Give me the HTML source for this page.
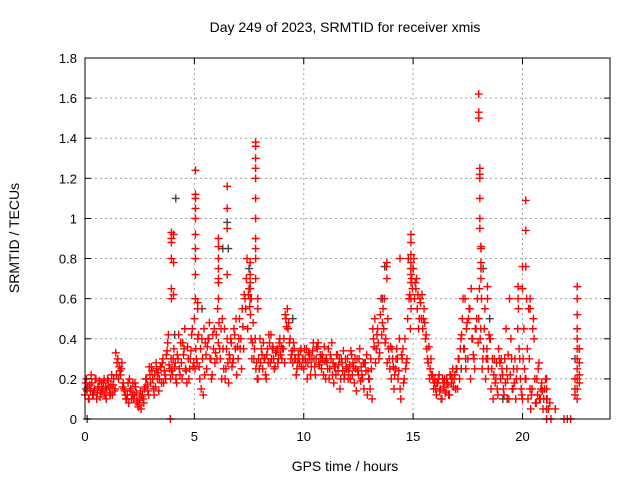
<!DOCTYPE html>
<html><head><meta charset="utf-8"><style>
body{margin:0;background:#fff}
svg{display:block;font-family:"Liberation Sans",sans-serif}
</style></head><body>
<svg id="chart" width="640" height="480">
<rect width="640" height="480" fill="#fff"/>
<text x="345" y="32" font-size="14" text-anchor="middle">Day 249 of 2023, SRMTID for receiver xmis</text>
<text x="345" y="471" font-size="14" text-anchor="middle">GPS time / hours</text>
<text transform="translate(19,238) rotate(-90)" font-size="14" text-anchor="middle">SRMTID / TECUs</text>
<g id="grid"></g><g id="marks"></g>
<rect x="85" y="58" width="525" height="361" fill="none" stroke="#000" stroke-width="1"/>
<g id="axes"></g>
</svg>
<script>
const xTicks=[0,5,10,15,20];
const yTicks=[0,0.2,0.4,0.6,0.8,1,1.2,1.4,1.6,1.8];
const yTickLabels=["0","0.2","0.4","0.6","0.8","1","1.2","1.4","1.6","1.8"];
const baseStep=1/16;
const redBase=[
0.12,0.2,0.16,0.1,0.14,0.18,0.12,0.15,0.2,0.13,0.16,0.11,0.18,0.14,0.2,0.16,
0.15,0.19,0.13,0.17,0.12,0.2,0.15,0.22,0.3,0.26,0.22,0.28,0.18,0.14,0.1,0.12,
0.08,0.14,0.1,0.18,0.12,0.16,0.09,0.06,0.1,0.05,0.12,0.08,0.16,0.2,0.14,0.26,
0.18,0.24,0.15,0.22,0.28,0.2,0.14,0.26,0.18,0.3,0.24,0.2,0.34,0.42,0.25,0.3,
0.22,0.35,0.28,0.18,0.3,0.25,0.38,0.2,0.32,0.45,0.24,0.36,0.2,0.3,0.42,0.26,
0.5,0.35,0.28,0.42,0.2,0.15,0.3,0.45,0.38,0.25,0.4,0.48,0.3,0.22,0.35,0.28,
0.42,0.55,0.48,0.3,0.2,0.35,0.45,0.25,0.4,0.18,0.3,0.38,0.28,0.45,0.35,0.22,
0.3,0.5,0.4,0.55,0.35,0.6,0.7,0.45,0.65,0.52,0.3,0.48,0.35,0.25,0.2,0.3,
0.4,0.35,0.25,0.3,0.22,0.32,0.28,0.38,0.42,0.35,0.3,0.26,0.34,0.28,0.38,0.32,
0.3,0.35,0.28,0.5,0.55,0.48,0.4,0.32,0.28,0.35,0.3,0.25,0.32,0.28,0.35,0.3,
0.25,0.3,0.35,0.28,0.32,0.22,0.3,0.38,0.26,0.3,0.35,0.28,0.32,0.25,0.3,0.36,
0.2,0.28,0.35,0.25,0.3,0.22,0.18,0.26,0.32,0.24,0.3,0.2,0.28,0.34,0.22,0.26,
0.3,0.24,0.2,0.32,0.28,0.18,0.25,0.3,0.22,0.35,0.26,0.2,0.15,0.28,0.32,0.24,
0.2,0.3,0.1,0.4,0.5,0.35,0.45,0.3,0.52,0.42,0.55,0.6,0.4,0.28,0.35,0.25,
0.2,0.3,0.15,0.25,0.35,0.2,0.4,0.1,0.3,0.18,0.4,0.28,0.5,0.6,0.45,0.7,
0.75,0.6,0.65,0.55,0.45,0.6,0.5,0.45,0.55,0.4,0.35,0.28,0.2,0.3,0.22,0.15,
0.2,0.12,0.18,0.22,0.15,0.1,0.18,0.2,0.14,0.18,0.12,0.22,0.18,0.25,0.2,0.15,
0.25,0.3,0.2,0.4,0.5,0.35,0.6,0.45,0.3,0.55,0.2,0.4,0.32,0.25,0.45,0.6,
0.5,0.4,0.6,0.3,0.45,0.2,0.35,0.25,0.4,0.15,0.3,0.22,0.18,0.28,0.12,0.3,
0.2,0.25,0.15,0.3,0.45,0.2,0.1,0.22,0.3,0.15,0.18,0.1,0.25,0.55,0.3,0.15,
0.1,0.45,0.2,0.6,0.1,0.3,0.05,0.15,0.5,0.2,0.08,0.12,0.28,0.1,0.18,0.05,
0.15,0.2,0.1,0.05,0.08];
const altStep=1/8;
const altOffset=1/32;
const redAlt=[
0.18,0.1,0.22,0.14,0.1,0.19,0.15,0.12,
0.2,0.12,0.17,0.33,0.2,0.25,0.15,0.1,
0.2,0.12,0.18,0.08,0.14,0.1,0.2,0.12,
0.26,0.12,0.25,0.2,0.28,0.22,0.38,0.2,
0.3,0.2,0.42,0.28,0.35,0.18,0.25,0.45,
0.25,0.4,0.35,0.12,0.32,0.4,0.2,0.45,
0.3,0.35,0.5,0.2,0.28,0.4,0.3,0.5,
0.4,0.25,0.62,0.8,0.56,0.38,0.4,0.2,
0.28,0.38,0.2,0.42,0.3,0.25,0.35,0.4,
0.35,0.52,0.45,0.3,0.38,0.22,0.3,0.26,
0.35,0.2,0.3,0.34,0.22,0.38,0.3,0.22,
0.3,0.2,0.38,0.26,0.32,0.15,0.24,0.3,
0.2,0.34,0.26,0.14,0.3,0.22,0.28,0.12,
0.15,0.45,0.28,0.38,0.6,0.45,0.76,0.3,
0.35,0.22,0.3,0.15,0.35,0.25,0.8,0.55,
0.8,0.7,0.5,0.62,0.48,0.3,0.25,0.2,
0.15,0.2,0.1,0.16,0.2,0.12,0.2,0.22,
0.15,0.35,0.6,0.25,0.5,0.65,0.3,0.5,
0.65,0.25,0.55,0.3,0.4,0.1,0.2,0.35,
0.3,0.12,0.25,0.6,0.15,0.3,0.45,0.2,
0.3,0.2,0.55,0.12,0.4,0.2,0.1,0.14];
const alt2Offset=3/32;
const redAlt2=[
0.14,0.17,0.12,0.2,0.16,0.13,0.18,0.1,
0.16,0.22,0.14,0.28,0.24,0.16,0.12,0.18,
0.15,0.1,0.13,0.07,0.11,0.15,0.17,0.22,
0.2,0.16,0.23,0.26,0.18,0.32,0.27,0.24,
0.26,0.32,0.22,0.38,0.25,0.3,0.34,0.28,
0.3,0.26,0.4,0.22,0.36,0.3,0.42,0.33,
0.38,0.45,0.25,0.35,0.32,0.26,0.42,0.36,
0.35,0.46,0.55,0.62,0.4,0.3,0.28,0.25,
0.32,0.3,0.35,0.28,0.36,0.33,0.3,0.36,
0.4,0.46,0.38,0.34,0.3,0.28,0.34,0.3,
0.28,0.33,0.26,0.3,0.36,0.27,0.32,0.29,
0.25,0.32,0.28,0.22,0.27,0.3,0.2,0.25,
0.27,0.22,0.3,0.24,0.19,0.28,0.24,0.2,
0.25,0.36,0.42,0.33,0.48,0.38,0.5,0.36,
0.26,0.3,0.24,0.32,0.2,0.3,0.62,0.65,
0.68,0.62,0.58,0.5,0.42,0.36,0.22,0.18,
0.18,0.14,0.2,0.13,0.17,0.22,0.16,0.25,
0.3,0.42,0.35,0.48,0.55,0.4,0.45,0.38,
0.45,0.35,0.3,0.42,0.25,0.3,0.15,0.28,
0.22,0.18,0.32,0.4,0.25,0.2,0.35,0.12,
0.25,0.35,0.15,0.45,0.08,0.25,0.15,0.1];
const spikeTimes=[
3.9,
3.95,3.95,3.95,3.95,3.95,3.95,
4.05,4.05,4.05,
5.05,5.05,5.05,5.05,5.05,5.05,5.05,5.05,5.05,5.05,5.15,5.15,
6.1,6.1,6.1,6.1,6.1,6.1,6.1,
6.5,6.5,6.5,6.5,
7.55,7.55,7.55,7.55,7.55,
7.8,7.8,7.8,7.8,7.8,7.8,7.8,7.8,7.8,7.8,7.8,
7.9,7.9,
13.8,13.8,
14.4,
14.9,14.9,14.9,14.9,14.9,14.9,14.9,14.9,
18.0,18.0,18.0,
18.05,18.05,18.05,18.05,18.05,18.05,
18.1,18.1,18.1,18.1,18.1,
18.4,18.4,
19.8,19.8,
20.0,20.0,
20.15,20.15,20.15,
20.35,20.35,
21.1,21.1,21.1,21.1,21.1,
21.3,21.5,21.9,22.05,22.2,
22.5,22.5,22.5,22.5,22.5,22.5,22.5,22.5,22.5,22.5,22.5,
22.6,22.6,22.6,22.6,
22.4,22.4,22.4];
const spikeVals=[
0.0,
0.9,0.93,0.88,0.8,0.65,0.6,
0.62,0.78,0.92,
1.24,1.12,1.1,1.05,1.0,0.92,0.85,0.8,0.72,0.6,0.55,0.58,
0.9,0.86,0.8,0.75,0.7,0.68,0.6,
1.16,1.05,0.95,0.72,
0.78,0.72,0.68,0.65,0.6,
1.38,1.36,1.3,1.25,1.2,1.1,1.0,0.9,0.85,0.8,0.7,
0.6,0.55,
0.78,0.7,
0.8,
0.92,0.88,0.82,0.78,0.75,0.72,0.68,0.6,
1.62,1.53,1.5,
1.25,1.22,1.2,1.1,1.0,0.95,
0.86,0.85,0.78,0.75,0.7,
0.66,0.6,
0.6,0.66,
0.76,0.65,
1.09,0.94,0.76,
0.6,0.55,
0.2,0.15,0.1,0.05,0.0,
0.0,0.05,0.0,0.0,0.0,
0.66,0.6,0.52,0.45,0.4,0.35,0.3,0.25,0.2,0.15,0.1,
0.35,0.28,0.22,0.18,
0.2,0.15,0.12];
const grayTimes=[0.05,0.1,2.8,4.1,4.15,5.35,6.3,6.5,6.55,7.5,7.6,9.5,13.6,13.7,15.0,17.2,17.4,18.2,18.5,19.1,19.3,22.4,22.6];
const grayVals=[0.15,0.0,0.2,0.42,1.1,0.55,0.85,0.98,0.85,0.75,0.6,0.5,0.6,0.76,0.75,0.25,0.3,0.75,0.5,0.1,0.1,0.3,0.35];

const NS='http://www.w3.org/2000/svg';
const X0=85,X1=610,Y0=419,Y1=58,XMAX=24,YMAX=1.8;
function xs(t){return X0+(X1-X0)*t/XMAX;}
function ys(v){return Y0-(Y0-Y1)*v/YMAX;}
const grid=document.getElementById('grid'),marks=document.getElementById('marks'),axes=document.getElementById('axes');
function line(p,x1,y1,x2,y2,st,dash){const l=document.createElementNS(NS,'line');l.setAttribute('x1',x1);l.setAttribute('y1',y1);l.setAttribute('x2',x2);l.setAttribute('y2',y2);l.setAttribute('stroke',st);if(dash)l.setAttribute('stroke-dasharray',dash);p.appendChild(l);return l;}
function text(p,x,y,s,anchor){const t=document.createElementNS(NS,'text');t.setAttribute('x',x);t.setAttribute('y',y);t.setAttribute('font-size','13');t.setAttribute('text-anchor',anchor);t.textContent=s;p.appendChild(t);return t;}
xTicks.forEach(function(t){
  const x=xs(t);
  if(t>0){const g=line(grid,x,Y1,x,Y0,'#a0a0a0','2,3');
  
  }
  line(axes,x,Y0,x,Y0-6,'#000');line(axes,x,Y1,x,Y1+6,'#000');
  const lb=text(axes,x,Y0+22,String(t),'middle');
  
  
});
yTicks.forEach(function(v,i){
  const y=ys(v);
  if(v>0&&v<YMAX){const g=line(grid,X0,y,X1,y,'#a0a0a0','2,3');
  
  }
  line(axes,X0,y,X0+6,y,'#000');line(axes,X1,y,X1-6,y,'#000');
  const lb=text(axes,X0-8,y+5,yTickLabels[i],'end');
  
  
});
function plus(t,v,col,name){
  const x=xs(t),y=ys(v);
  const p=document.createElementNS(NS,'path');
  p.setAttribute('d','M'+(x-4)+' '+y+'H'+(x+4)+'M'+x+' '+(y-4)+'V'+(y+4));
  p.setAttribute('stroke',col);p.setAttribute('stroke-width','1.4');
  
  
  marks.appendChild(p);
}
grayTimes.forEach(function(t,i){plus(t,grayVals[i],'#404040','srmtid-alt-point');});
redBase.forEach(function(v,i){plus(i*baseStep,v,'#ff0000','srmtid-point');});
redAlt.forEach(function(v,i){plus(altOffset+i*altStep,v,'#ff0000','srmtid-point');});
redAlt2.forEach(function(v,i){plus(alt2Offset+i*altStep,v,'#ff0000','srmtid-point');});
spikeTimes.forEach(function(t,i){plus(t,spikeVals[i],'#ff0000','srmtid-spike-point');});
</script>
</body></html>
